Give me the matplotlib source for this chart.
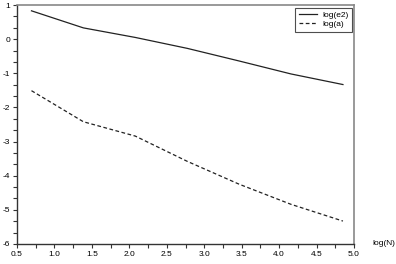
import numpy as np
import matplotlib
matplotlib.use('Agg')
import matplotlib.pyplot as plt
from matplotlib.ticker import MultipleLocator

plt.rcParams['font.family'] = ['Liberation Sans', 'DejaVu Sans']
plt.rcParams['axes.unicode_minus'] = False

# log(N) for N = 2, 4, ..., 128
logN  = [0.693, 1.386, 2.079, 2.773, 3.466, 4.159, 4.852]
log_e2 = [0.83, 0.33, 0.05, -0.27, -0.64, -1.02, -1.33]
log_a  = [-1.51, -2.42, -2.84, -3.58, -4.25, -4.84, -5.33]

fig = plt.figure(figsize=(3.96, 2.64), dpi=100)
ax = fig.add_axes([0.043, 0.076, 0.851, 0.905])

ax.plot(logN, log_e2, color='#222222', lw=0.9, label='log(e2)')
ax.plot(logN, log_a, color='#222222', lw=0.9, ls=(0, (3, 2)), label='log(a)')

ax.set_xlim(0.5, 5.0)
ax.set_ylim(-6, 1)
ax.xaxis.set_major_locator(MultipleLocator(0.5))
ax.xaxis.set_minor_locator(MultipleLocator(0.25))
ax.yaxis.set_major_locator(MultipleLocator(1))
ax.yaxis.set_minor_locator(MultipleLocator(1 / 3))
ax.xaxis.set_major_formatter(matplotlib.ticker.FormatStrFormatter('%.1f'))
ax.tick_params(which='both', direction='out', labelsize=6, pad=2, width=0.8, color='#333333')
ax.tick_params(which='major', length=3)
ax.tick_params(which='minor', length=3)

for s in ['top', 'right']:
    ax.spines[s].set_color('#888888')
    ax.spines[s].set_linewidth(1.2)
for s in ['left', 'bottom']:
    ax.spines[s].set_color('#333333')
    ax.spines[s].set_linewidth(1.0)

ax.text(1.055, 0.0, 'log(N)', transform=ax.transAxes, fontsize=6, ha='left', va='center')

leg = ax.legend(loc='upper right', fontsize=6, frameon=True, fancybox=False,
                edgecolor='#222222', borderpad=0.4, handlelength=2.2,
                handletextpad=0.6, labelspacing=0.2, borderaxespad=0.3)
leg.get_frame().set_linewidth(0.8)

fig.savefig('out.png', dpi=100)
